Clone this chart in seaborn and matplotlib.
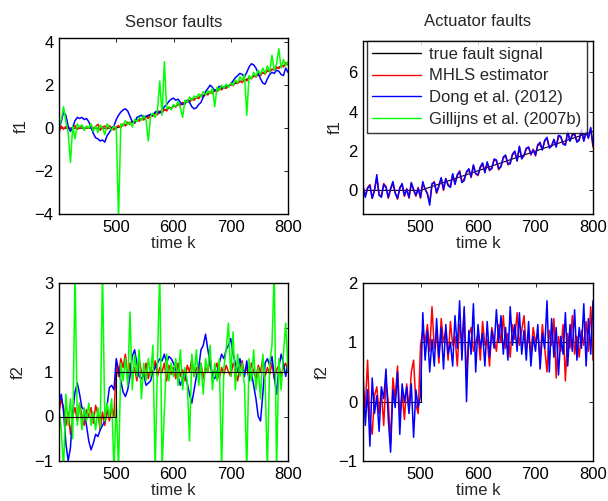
import numpy as np
import pandas as pd
import seaborn as sns
import matplotlib.pyplot as plt
from matplotlib.lines import Line2D

# time index (one sample every 4 steps)
k = np.arange(400, 801, 4)

# true fault signals (breakpoints)
true_f1_k = [400, 500, 800]
true_f1 = [0, 0, 3]
true_f2_k = [400, 500, 500, 800]
true_f2 = [0, 0, 1, 1]

# ---- sensor faults, f1 ----
sens_f1_mhls = [
    -0.2, 0.1, -0.05, 0.08, 0.0, -0.1, 0.05, 0.12, -0.06, 0.03,
    0.1, -0.08, 0.06, 0.0, 0.15, -0.05, 0.08, 0.18, -0.1, 0.05,
    0.1, -0.04, 0.12, 0.02, -0.08, 0.05, 0.12, 0.02, 0.2, 0.1,
    0.28, 0.18, 0.3, 0.22, 0.4, 0.32, 0.45, 0.38, 0.55, 0.45,
    0.6, 0.55, 0.72, 0.62, 0.8, 0.7, 0.88, 0.8, 0.98, 0.9,
    1.05, 0.98, 1.15, 1.05, 1.2, 1.12, 1.3, 1.2, 1.38, 1.3,
    1.45, 1.38, 1.55, 1.45, 1.6, 1.55, 1.7, 1.62, 1.78, 1.7,
    1.85, 1.78, 1.92, 1.85, 1.98, 2.05, 1.98, 2.15, 2.08, 2.2,
    2.12, 2.28, 2.2, 2.38, 2.3, 2.45, 2.38, 2.5, 2.45, 2.6,
    2.52, 2.7, 2.62, 2.75, 2.7, 2.85, 2.78, 2.92, 2.85, 3.05,
    2.95]
sens_f1_dong = [
    0.0, 0.3, 0.75, 0.6, 0.1, -0.15, 0.05, 0.35, 0.5, 0.45,
    0.5, 0.4, 0.45, 0.3, 0.05, -0.25, -0.45, -0.5, -0.6, -0.55,
    -0.65, -0.35, -0.2, 0.0, 0.1, 0.4, 0.6, 0.75, 0.85, 0.9,
    0.8, 0.55, 0.3, 0.25, 0.5, 0.55, 0.6, 0.5, 0.55, 0.6,
    0.65, 0.6, 0.75, 0.8, 0.7, 0.85, 1.0, 1.1, 1.25, 1.35,
    1.4, 1.3, 1.35, 1.2, 1.1, 1.15, 1.3, 1.2, 1.0, 0.9,
    0.95, 1.1, 1.2, 1.45, 1.7, 1.85, 2.0, 1.9, 1.75, 1.8,
    1.95, 1.9, 1.85, 2.0, 1.95, 2.05, 2.2, 2.35, 2.45, 2.55,
    2.5, 2.4, 2.6, 2.85, 3.0, 2.95, 2.8, 2.55, 2.3, 2.1,
    2.05, 2.3, 2.5, 2.6, 2.55, 2.7, 2.65, 2.5, 2.45, 2.8,
    2.6]
sens_f1_gill = [
    0.0, 0.4, 1.0, 0.3, -0.2, -1.6, 0.1, -0.5, 0.2, 0.05,
    0.15, -0.1, 0.1, 0.0, 0.2, -0.15, 0.1, -0.2, 0.15, 0.0,
    -0.3, 0.2, 0.05, -0.1, 0.1, 0.0, -4.2, 0.2, 0.1, 0.35,
    0.15, 0.3, 0.05, 0.4, 0.3, 0.5, 0.35, 0.6, 0.4, -0.6,
    0.55, 0.7, 0.5, 0.8, 2.2, 0.6, 3.1, 0.9, 1.0, 0.85,
    1.1, 1.0, 1.25, 0.95, 0.5, 1.3, 1.2, 1.45, 1.3, 1.5,
    1.4, 1.6, 1.45, 1.7, 1.55, 1.75, 1.6, 1.85, 1.0, 1.9,
    1.75, 2.0, 1.85, 2.05, 1.9, 2.1, 2.0, 2.25, 2.1, 2.4,
    2.2, 2.5, 0.6, 2.45, 2.3, 2.6, 2.4, 2.7, 2.5, 2.8,
    2.55, 2.9, 2.6, 3.4, 2.7, 3.0, 3.7, 2.8, 3.2, 2.9,
    3.1]

# ---- sensor faults, f2 ----
sens_f2_mhls = [
    0.1, 0.4, 0.2, -0.2, 0.1, -0.4, 0.0, 0.2, -0.1, 0.3,
    0.0, -0.2, 0.15, 0.0, 0.2, -0.15, 0.25, 0.05, -0.3, 0.1,
    -0.2, 0.15, -0.1, 0.2, 0.0, 1.2, 0.9, 1.3, 1.1, 1.4,
    0.85, 1.2, 0.95, 1.1, 0.8, 1.3, 1.0, 0.9, 1.2, 0.85,
    1.1, 0.95, 1.25, 0.9, 1.1, 1.0, 1.2, 0.8, 1.15, 0.95,
    1.1, 0.85, 1.2, 0.9, 1.05, 0.8, 1.15, 1.0, 1.3, 0.9,
    1.1, 0.95, 1.2, 0.85, 1.1, 1.0, 1.3, 0.9, 1.05, 1.2,
    0.85, 1.1, 0.95, 1.15, 1.0, 0.9, 1.2, 1.05, 0.8, 1.1,
    1.25, 0.95, 1.1, 0.9, 1.2, 1.0, 0.85, 1.15, 1.0, 1.3,
    0.9, 1.1, 0.95, 1.2, 0.85, 1.05, 1.15, 0.9, 1.1, 1.2,
    1.0]
sens_f2_dong = [
    0.3, 0.5, 0.1, -0.6, -1.0, -0.7, 0.1, 0.55, 0.75, 0.5,
    0.2, 0.15, -0.2, -0.55, -0.75, -0.6, -0.4, -0.45, -0.3, -0.2,
    -0.1, 0.25, 0.65, 0.7, 0.6, 1.3, 1.05, 0.8, 0.55, 0.45,
    0.6, 0.9, 1.35, 1.5, 1.2, 0.9, 0.85, 0.95, 0.7, 0.75,
    0.8, 1.0, 1.1, 1.2, 1.3, 1.25, 1.4, 1.2, 1.35, 1.3,
    1.2, 1.05, 0.9, 0.7, 0.85, 1.0, 0.75, 0.5, 0.3, 0.6,
    0.9, 1.1, 1.5, 1.6, 1.85, 1.5, 1.2, 0.9, 0.85, 1.0,
    1.2, 1.4, 1.3, 1.5, 1.6, 1.75, 1.4, 1.2, 1.0, 1.3,
    1.1, 0.9, 1.25, 0.8, 1.0, 0.7, 0.4, 0.0, -0.1, 0.5,
    1.2, 1.3, 1.15, 1.35, 0.9, 0.5, 1.1, 1.4, 1.2, 0.9,
    1.2]
sens_f2_gill = [
    0.2, -0.3, -1.2, 0.5, -0.2, 0.4, -0.5, 3.3, -0.2, 0.3,
    -0.3, 0.2, -0.1, 0.3, -0.2, 0.1, -0.3, 0.2, -0.25, 3.3,
    -0.1, 0.3, 0.0, 0.4, -1.2, 0.3, -1.2, 1.2, 0.8, 1.3,
    0.7, 2.35, 0.6, 1.4, 0.9, 1.5, 0.4, 1.2, 0.8, 1.3,
    0.9, 1.6, -1.2, 1.2, 3.3, -1.2, 0.1, 1.4, 0.8, 1.2,
    0.9, 1.3, 0.7, 1.5, 0.6, 1.1, 0.8, -0.55, 1.4, 0.9,
    1.5, 0.7, 1.2, 0.5, 1.3, 1.0, 1.6, 0.6, 1.2, 0.8,
    1.3, -1.2, 1.1, 1.5, 2.1, 0.9, 1.9, 0.6, 1.4, 0.9,
    1.2, 0.7, -1.2, 1.3, 0.8, 1.5, 0.6, 1.1, 0.4, 1.4,
    0.8, -1.2, 1.2, 1.6, 3.3, -1.2, 1.3, 0.6, 1.4, 2.1,
    1.0]

# ---- actuator faults, f1 ----
act_f1_mhls = [
    0.1, -0.25, 0.15, 0.3, -0.4, 0.05, 0.6, -0.2, -0.3, 0.35,
    0.2, -0.4, 0.05, 0.35, -0.1, -0.45, 0.15, 0.3, -0.3, 0.1,
    -0.4, 0.35, 0.0, -0.3, 0.15, -0.4, 0.35, 0.1, -0.2, -0.6,
    0.3, 0.45, -0.15, 0.2, 0.6, 0.0, 0.6, 0.3, 0.2, 0.8,
    0.35, 0.75, 1.0, 0.45, 0.6, 0.9, 1.05, 0.65, 1.25, 0.85,
    0.75, 1.15, 1.35, 0.95, 1.4, 1.0, 1.15, 1.55, 1.5, 1.05,
    1.25, 1.65, 1.75, 1.3, 1.45, 1.8, 1.95, 1.5, 2.2, 1.65,
    1.75, 2.1, 2.2, 1.8, 2.1, 1.75, 2.35, 2.3, 2.1, 2.5,
    2.65, 2.2, 2.3, 2.55, 2.25, 2.75, 2.7, 2.4, 2.35, 2.95,
    2.55, 2.8, 2.85, 2.5, 2.6, 3.05, 2.55, 2.95, 2.7, 3.15,
    2.2]
act_f1_dong = [
    0.25, -0.35, 0.1, 0.25, -0.4, 0.0, 0.8, -0.25, -0.35, 0.3,
    0.15, -0.35, 0.1, 0.45, -0.15, -0.4, 0.1, 0.35, -0.25, 0.05,
    -0.35, 0.4, 0.05, -0.25, 0.1, -0.35, 0.45, 0.05, -0.15, -0.75,
    0.35, 0.4, -0.1, 0.25, 0.65, 0.05, 0.6, 0.25, 0.15, 0.85,
    0.3, 0.8, 0.95, 0.4, 0.5, 0.95, 1.1, 0.7, 1.3, 0.85,
    0.8, 1.2, 1.4, 0.9, 1.45, 1.05, 1.1, 1.6, 1.55, 1.1,
    1.2, 1.7, 1.8, 1.35, 1.35, 1.85, 2.0, 1.5, 2.25, 1.6,
    1.8, 2.15, 2.2, 1.85, 2.05, 1.8, 2.3, 2.45, 2.05, 2.55,
    2.7, 2.15, 2.25, 2.6, 2.2, 2.8, 2.75, 2.35, 2.3, 3.0,
    2.5, 2.85, 2.9, 2.45, 2.55, 3.1, 2.5, 3.0, 2.65, 3.2,
    2.3]

# ---- actuator faults, f2 ----
act_f2_mhls = [
    0.2, -0.1, 0.7, -0.3, -0.55, 0.1, 0.25, -0.2, 0.2, -0.4,
    0.35, 0.0, -0.7, 0.4, 0.05, 0.6, -0.25, 0.15, -0.3, 0.3,
    -0.15, 0.5, 0.7, -0.05, -0.2, 0.95, 1.2, 1.0, 1.3, 0.85,
    1.6, 0.9, 1.15, 0.65, 1.4, 1.0, 1.2, 0.7, 1.35, 0.95,
    1.1, 0.6, 1.3, 1.0, 1.55, 0.4, 1.1, 1.25, 0.85, 1.0,
    1.15, 0.7, 1.35, 0.95, 1.05, 0.6, 1.25, 1.05, 0.85, 1.3,
    1.0, 1.45, 0.9, 1.15, 0.75, 1.3, 1.05, 1.5, 0.95, 1.2,
    1.45, 0.9, 1.1, 0.8, 1.25, 1.0, 1.15, 0.7, 1.3, 0.9,
    0.5, 1.2, 0.95, 1.4, 0.4, 1.1, 0.85, 1.3, 0.35, 1.15,
    0.9, 1.45, 0.8, 1.1, 0.75, 1.2, 0.95, 1.35, 0.85, 1.6,
    0.7]
act_f2_dong = [
    0.5, -0.4, 0.2, -0.75, 0.4, -0.2, 0.1, -0.5, 0.25, 0.05,
    0.55, -0.3, -0.85, 0.2, -0.1, 0.5, -0.55, 0.3, 0.0, 0.25,
    -0.2, 0.3, -0.6, 0.2, -0.1, 0.1, 1.5, 0.7, 1.2, 0.5,
    1.05, 0.6, 1.4, 0.75, 1.25, 0.55, 1.3, 0.8, 1.0, 0.6,
    1.45, 0.9, 1.7, 0.7, 1.6, 0.0, 1.2, 0.8, 1.65, 0.5,
    1.3, 0.9, 1.15, 0.6, 1.35, 0.75, 1.2, 0.9, 1.55, 1.0,
    1.45, 0.8, 1.25, 0.7, 1.6, 0.95, 1.3, 0.85, 1.5, 0.8,
    1.2, 0.7, 1.35, 0.6, 1.1, 0.85, 1.3, 0.55, 1.15, 0.9,
    1.7, 0.5, 1.4, 0.75, 1.25, 0.45, 1.1, 0.8, 1.5, 0.6,
    1.3, 0.85, 1.55, 0.7, 1.25, 0.9, 1.65, 0.6, 1.4, 0.8,
    1.7]

labels = ["true fault signal", "MHLS estimator", "Dong et al. (2012)", "Gillijns et al. (2007b)"]
colors = ["black", "#ff0000", "#0000ff", "#00ff00"]

sns.set_style("white")
plt.rcParams["font.family"] = ["Liberation Sans", "DejaVu Sans"]
plt.rcParams["font.size"] = 12

fig = plt.figure(figsize=(6.08, 5.01), dpi=100)
W, H = 608, 501


def make_ax(l, t, r, b):
    return fig.add_axes([l / W, 1 - b / H, (r - l) / W, (b - t) / H])


ax_tl = make_ax(59, 38, 288, 214)
ax_tr = make_ax(363, 41, 593, 214)
ax_bl = make_ax(59, 283, 288, 461)
ax_br = make_ax(363, 283, 593, 461)

lw = 1.1

# sensor faults
for ax, tk, tv, series, ztrue in [
    (ax_tl, true_f1_k, true_f1, [sens_f1_mhls, sens_f1_dong, sens_f1_gill], 1),
    (ax_bl, true_f2_k, true_f2, [sens_f2_mhls, sens_f2_dong, sens_f2_gill], 5),
]:
    for vals, c in zip(series, colors[1:]):
        sns.lineplot(x=k, y=vals, ax=ax, color=c, lw=lw, sort=False, estimator=None)
    ax.plot(tk, tv, color="black", lw=0.8, zorder=ztrue)

# actuator faults
for ax, tk, tv, series in [
    (ax_tr, true_f1_k, true_f1, [act_f1_mhls, act_f1_dong]),
    (ax_br, true_f2_k, true_f2, [act_f2_mhls, act_f2_dong]),
]:
    ax.plot(tk, tv, color="black", lw=0.8)
    for vals, c in zip(series, colors[1:3]):
        sns.lineplot(x=k, y=vals, ax=ax, color=c, lw=lw, sort=False, estimator=None)

ax_tl.set_ylim(-4, 4.2)
ax_tl.set_yticks([-4, -2, 0, 2, 4])
ax_tr.set_ylim(-1.2, 7.6)
ax_tr.set_yticks([0, 2, 4, 6])
ax_bl.set_ylim(-1, 3)
ax_bl.set_yticks([-1, 0, 1, 2, 3])
ax_br.set_ylim(-1, 2)
ax_br.set_yticks([-1, 0, 1, 2])

for ax in [ax_tl, ax_tr, ax_bl, ax_br]:
    ax.set_xlim(400, 800)
    ax.set_xticks([500, 600, 700, 800])
    ax.set_xlabel("time k", labelpad=1)
    ax.tick_params(direction="in", length=3, width=0.6, top=True, right=True,
                   labelsize=12, pad=4, colors="black")
    for s in ax.spines.values():
        s.set_color("black")
        s.set_linewidth(1.0)
    ax.set_yticklabels([f"{t:g}".replace("-", "\u2212") for t in ax.get_yticks()])

ax_tl.set_ylabel("f1", labelpad=4)
ax_tr.set_ylabel("f1", labelpad=4)
ax_bl.set_ylabel("f2", labelpad=6)
ax_br.set_ylabel("f2", labelpad=6)
ax_tl.set_title("Sensor faults", fontsize=12, pad=8)
ax_tr.set_title("Actuator faults", fontsize=12, pad=11)

handles = [Line2D([], [], color=c, lw=1.0) for c in colors]
leg = ax_tr.legend(handles, labels, loc="upper right", bbox_to_anchor=(0.975, 1.0),
                   frameon=True, fancybox=False, fontsize=12, handlelength=2.9,
                   handletextpad=0.5, borderpad=0.35, labelspacing=0.4,
                   borderaxespad=0.0, handleheight=0.7)
leg.get_frame().set_edgecolor("black")
leg.get_frame().set_linewidth(1.0)

fig.savefig("out.png", dpi=100)
